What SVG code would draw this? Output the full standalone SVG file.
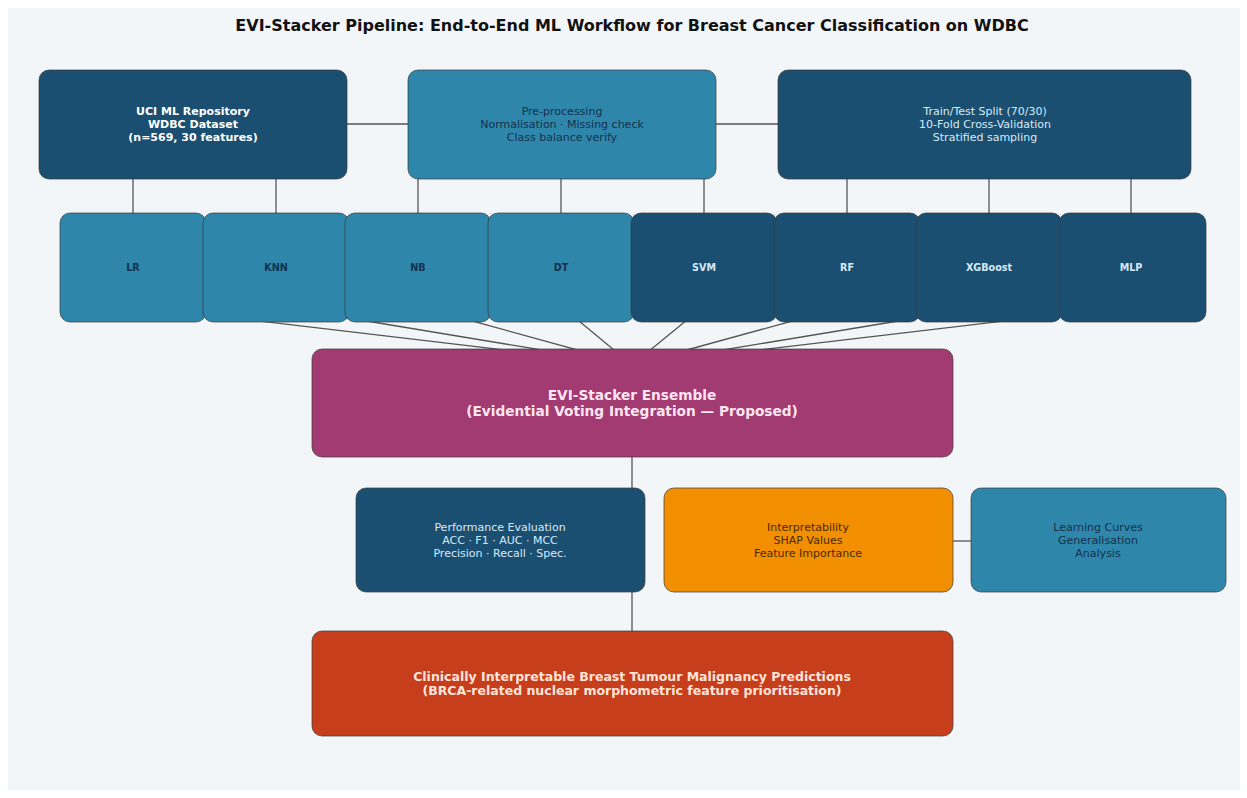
<svg xmlns="http://www.w3.org/2000/svg" width="1247" height="798" viewBox="0 0 1247 798">
<style>
text{font-family:"DejaVu Sans","Liberation Sans",sans-serif;text-anchor:middle}
.box{stroke:#3a3a3a;stroke-opacity:0.7;stroke-width:1}
.dk{fill:#1b4f72}.md{fill:#2e86ab}.mg{fill:#a23b72}.or{fill:#f18f01}.rd{fill:#c73e1d}
.tl{fill:#d6eaf8;font-size:11px}
.td{fill:#14324d;font-size:11px}
.to{fill:#4a2a00;font-size:11px}
.tb{fill:#ffffff;font-size:11px;font-weight:bold}
.ml{font-size:9.6px;font-weight:bold}
.conn line{stroke:#555;stroke-width:1.3}
</style>
<rect x="0" y="0" width="1247" height="798" fill="#ffffff"/>
<rect x="8" y="8" width="1232" height="782" fill="#f3f6f9"/>
<text x="632" y="31" style="font-size:16px;font-weight:bold;fill:#111">EVI-Stacker Pipeline: End-to-End ML Workflow for Breast Cancer Classification on WDBC</text>
<g id="connectors" class="conn">
<line x1="347" y1="124" x2="408" y2="124"/>
<line x1="716" y1="124" x2="778" y2="124"/>
<line x1="133" y1="179" x2="133" y2="214"/>
<line x1="276" y1="179" x2="276" y2="214"/>
<line x1="418" y1="179" x2="418" y2="214"/>
<line x1="561" y1="179" x2="561" y2="214"/>
<line x1="704" y1="179" x2="704" y2="214"/>
<line x1="847" y1="179" x2="847" y2="214"/>
<line x1="989" y1="179" x2="989" y2="214"/>
<line x1="1131" y1="179" x2="1131" y2="214"/>
<line x1="133" y1="306" x2="632" y2="365"/>
<line x1="276" y1="306" x2="632" y2="365"/>
<line x1="418" y1="306" x2="632" y2="365"/>
<line x1="561" y1="306" x2="632" y2="365"/>
<line x1="704" y1="306" x2="632" y2="365"/>
<line x1="847" y1="306" x2="632" y2="365"/>
<line x1="989" y1="306" x2="632" y2="365"/>
<line x1="1131" y1="306" x2="632" y2="365"/>
<line x1="632" y1="457" x2="632" y2="632"/>
<line x1="953" y1="541" x2="971" y2="541"/>
</g>
<g id="uci"><rect class="box dk" x="39" y="70" width="308" height="109" rx="10"/>
<text class="tb" x="193" y="115">UCI ML Repository</text><text class="tb" x="193" y="128">WDBC Dataset</text><text class="tb" x="193" y="141">(n=569, 30 features)</text></g>
<g id="preproc"><rect class="box md" x="408" y="70" width="308" height="109" rx="10"/>
<text class="td" x="562" y="115">Pre-processing</text><text class="td" x="562" y="128">Normalisation · Missing check</text><text class="td" x="562" y="141">Class balance verify</text></g>
<g id="split"><rect class="box dk" x="778" y="70" width="413" height="109" rx="10"/>
<text class="tl" x="985" y="115">Train/Test Split (70/30)</text><text class="tl" x="985" y="128">10-Fold Cross-Validation</text><text class="tl" x="985" y="141">Stratified sampling</text></g>
<g id="lr"><rect class="box md" x="60" y="213" width="146" height="109" rx="10"/><text class="td ml" x="133" y="271">LR</text></g>
<g id="knn"><rect class="box md" x="203" y="213" width="146" height="109" rx="10"/><text class="td ml" x="276" y="271">KNN</text></g>
<g id="nb"><rect class="box md" x="345" y="213" width="146" height="109" rx="10"/><text class="td ml" x="418" y="271">NB</text></g>
<g id="dt"><rect class="box md" x="488" y="213" width="146" height="109" rx="10"/><text class="td ml" x="561" y="271">DT</text></g>
<g id="svm"><rect class="box dk" x="631" y="213" width="146" height="109" rx="10"/><text class="tl ml" x="704" y="271">SVM</text></g>
<g id="rf"><rect class="box dk" x="774" y="213" width="146" height="109" rx="10"/><text class="tl ml" x="847" y="271">RF</text></g>
<g id="xgb"><rect class="box dk" x="916" y="213" width="146" height="109" rx="10"/><text class="tl ml" x="989" y="271">XGBoost</text></g>
<g id="mlp"><rect class="box dk" x="1059" y="213" width="147" height="109" rx="10"/><text class="tl ml" x="1131" y="271">MLP</text></g>
<g id="ensemble"><rect class="box mg" x="312" y="349" width="641" height="108" rx="10"/>
<text x="632" y="400" style="font-size:13.7px;font-weight:bold;fill:#fde6ef">EVI-Stacker Ensemble</text>
<text x="632" y="416" style="font-size:13.7px;font-weight:bold;fill:#fde6ef">(Evidential Voting Integration — Proposed)</text></g>
<g id="perf"><rect class="box dk" x="356" y="488" width="289" height="104" rx="10"/>
<text class="tl" x="500" y="531">Performance Evaluation</text><text class="tl" x="500" y="544">ACC · F1 · AUC · MCC</text><text class="tl" x="500" y="557">Precision · Recall · Spec.</text></g>
<g id="interp"><rect class="box or" x="664" y="488" width="289" height="104" rx="10"/>
<text class="to" x="808" y="531">Interpretability</text><text class="to" x="808" y="544">SHAP Values</text><text class="to" x="808" y="557">Feature Importance</text></g>
<g id="learning"><rect class="box md" x="971" y="488" width="255" height="104" rx="10"/>
<text class="td" x="1098" y="531">Learning Curves</text><text class="td" x="1098" y="544">Generalisation</text><text class="td" x="1098" y="557">Analysis</text></g>
<g id="final"><rect class="box rd" x="312" y="631" width="641" height="105" rx="10"/>
<text x="632" y="681" style="font-size:12.5px;font-weight:bold;fill:#fde4d8">Clinically Interpretable Breast Tumour Malignancy Predictions</text>
<text x="632" y="695" style="font-size:12.5px;font-weight:bold;fill:#fde4d8">(BRCA-related nuclear morphometric feature prioritisation)</text></g>
</svg>
